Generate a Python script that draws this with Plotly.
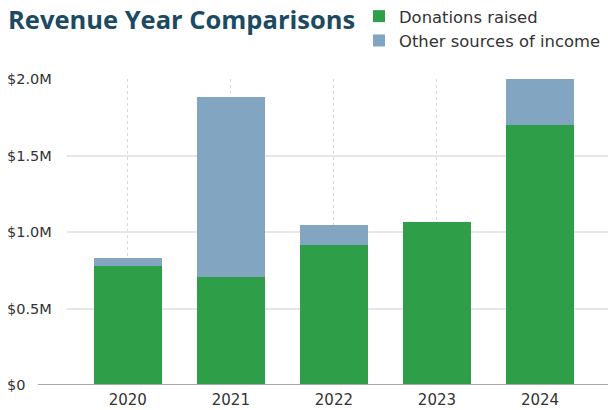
import plotly.graph_objects as go

years = ["2020", "2021", "2022", "2023", "2024"]
donations = [780000, 708000, 915000, 1065000, 1700000]
other_income = [52000, 1174000, 131000, 0, 300000]
y_tick_vals = [0, 500000, 1000000, 1500000, 2000000]
y_tick_text = ["$0", "$0.5M", "$1.0M", "$1.5M", "$2.0M"]

GREEN = "#2e9e48"
BLUE = "#82a6c1"
TEXT = "#333333"
FONT = "'DejaVu Sans', sans-serif"
TITLE_FONT = "'Open Sans', sans-serif"

PW = 541.0  # plot width in px
PH = 306.0  # plot height in px

fig = go.Figure()
fig.add_trace(go.Bar(x=years, y=donations, name="Donations raised",
                     marker=dict(color=GREEN, line=dict(width=0)), width=0.66))
fig.add_trace(go.Bar(x=years, y=other_income, name="Other sources of income",
                     marker=dict(color=BLUE, line=dict(width=0)), width=0.66))

annotations = [
    dict(text="<b>Revenue Year Comparisons</b>", xref="paper", yref="paper",
         x=-61 / PW, y=1 + 79 / PH, xanchor="left", yanchor="top", showarrow=False,
         font=dict(family=TITLE_FONT, size=25.5, color="#1c4a63"))
]
for v, t in zip(y_tick_vals, y_tick_text):
    annotations.append(dict(text=t, xref="paper", yref="y", x=-62 / PW, y=v,
                            xanchor="left", yanchor="middle", showarrow=False,
                            font=dict(family=FONT, size=14.5, color=TEXT)))

fig.update_layout(
    width=608, height=410,
    margin=dict(l=67, r=0, t=79, b=25, autoexpand=False),
    barmode="stack",
    plot_bgcolor="white", paper_bgcolor="white",
    font=dict(family=FONT, color=TEXT),
    showlegend=True,
    legend=dict(x=(359 - 67) / PW, y=1 + 80 / PH,
                xanchor="left", yanchor="top", orientation="v",
                font=dict(family=FONT, size=16.4, color=TEXT),
                traceorder="normal", itemwidth=30, tracegroupgap=0,
                bgcolor="rgba(0,0,0,0)"),
    xaxis=dict(type="category", range=[-0.59, 4.66], showgrid=True,
               gridcolor="#d9d9d9", griddash="dot", gridwidth=1,
               showline=False, ticks="", zeroline=False, ticklabelstandoff=4,
               tickfont=dict(family=FONT, size=15, color=TEXT)),
    yaxis=dict(range=[0, 2000000], tickvals=y_tick_vals, showticklabels=False,
               showgrid=True, gridcolor="#e6e6e6", gridwidth=1.5,
               zeroline=False, showline=False, ticks=""),
    annotations=annotations,
    shapes=[dict(type="line", xref="paper", yref="y", x0=-29 / PW, x1=1,
                 y0=0, y1=0, line=dict(color="#aaaaaa", width=2), layer="above")],
)

fig.write_html("out.html", config={"displayModeBar": False},
               post_script="document.body.style.margin='0';")
